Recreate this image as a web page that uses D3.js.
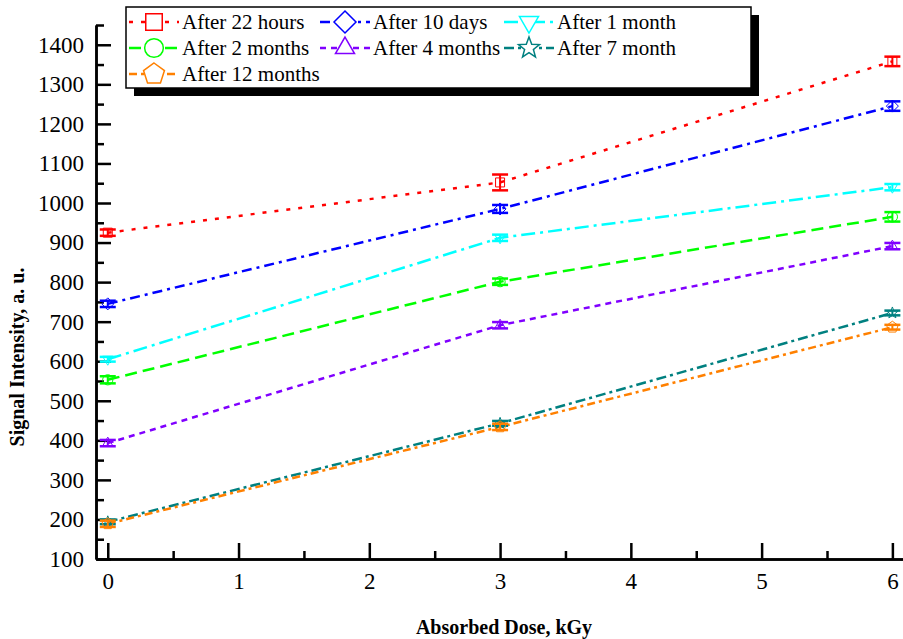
<!DOCTYPE html>
<html>
<head>
<meta charset="utf-8">
<script src="https://cdn.jsdelivr.net/npm/d3@7"></script>
<style>
  html, body { margin: 0; padding: 0; background: #fff; }
  svg { display: block; }
  svg text { font-family: "Liberation Serif", "Times New Roman", Times, serif !important; }
</style>
</head>
<body>
<svg id="chart" width="903" height="639"></svg>
<script>
// ---------- data ----------
const doses = [0, 3, 6];
const seriesNames = ["After 22 hours", "After 10 days", "After 1 month", "After 2 months", "After 4 months", "After 7 month", "After 12 months"];
const v22h  = [925, 1052, 1358];
const v10d  = [745, 985, 1245];
const v1m   = [605, 912, 1040];
const v2m   = [553, 801, 965];
const v4m   = [393, 691, 891];
const v7m   = [194, 443, 722];
const v12m  = [189, 434, 686];
const e22h  = [8, 20, 12];
const e10d  = [8, 10, 12];
const e1m   = [6, 8, 8];
const e2m   = [9, 8, 12];
const e4m   = [8, 8, 8];
const e7m   = [6, 6, 6];
const e12m  = [8, 8, 6];
const yTicks = [100, 200, 300, 400, 500, 600, 700, 800, 900, 1000, 1100, 1200, 1300, 1400];
const xTicks = [0, 1, 2, 3, 4, 5, 6];

// ---------- styles ----------
const colors = ["#ff0000", "#0000ff", "#00ffff", "#00ff00", "#8000ff", "#008080", "#ff8000"];
const dashes = ["4,8", "10,5,3,5", "14,5,3,5", "12,6", "6,5", "10,4,3,4", "8,4,3,4"];
const shapes = ["square", "diamond", "tridown", "circle", "triup", "star", "pentagon"];
const values = [v22h, v10d, v1m, v2m, v4m, v7m, v12m];
const errors = [e22h, e10d, e1m, e2m, e4m, e7m, e12m];
const FONT = '"Liberation Serif", "Times New Roman", Times, serif';

const series = seriesNames.map((name, i) => ({
  name, color: colors[i], dash: dashes[i], shape: shapes[i],
  points: doses.map((d, j) => ({ x: d, y: values[i][j], e: errors[i][j] }))
}));

const svg = d3.select("#chart");
const x = d3.scaleLinear().domain([-0.09, 6.15]).range([96, 912]);
const y = d3.scaleLinear().domain([100, 1450]).range([559, 25]);

// ---------- marker shapes ----------
function polygon(n, r, rot) {
  const pts = [];
  for (let k = 0; k < n; k++) {
    const a = rot + k * 2 * Math.PI / n;
    pts.push([r * Math.cos(a), r * Math.sin(a)]);
  }
  return "M" + pts.map(p => p.join(",")).join("L") + "Z";
}
function star(r) {
  const pts = [];
  for (let k = 0; k < 10; k++) {
    const a = -Math.PI / 2 + k * Math.PI / 5;
    const rr = k % 2 === 0 ? r : r * 0.42;
    pts.push([rr * Math.cos(a), rr * Math.sin(a)]);
  }
  return "M" + pts.map(p => p.join(",")).join("L") + "Z";
}
function markerPath(shape, r) {
  switch (shape) {
    case "square": return `M${-r*0.75},${-r*0.75}H${r*0.75}V${r*0.75}H${-r*0.75}Z`;
    case "diamond": return polygon(4, r, -Math.PI / 2);
    case "tridown": return polygon(3, r, Math.PI / 2);
    case "triup": return polygon(3, r, -Math.PI / 2);
    case "circle": return `M${r*0.85},0A${r*0.85},${r*0.85} 0 1,1 ${-r*0.85},0A${r*0.85},${r*0.85} 0 1,1 ${r*0.85},0Z`;
    case "star": return star(r);
    case "pentagon": return polygon(5, r, -Math.PI / 2);
  }
}

// ---------- axes ----------
const yAxis = d3.axisLeft(y).tickValues(yTicks).tickSizeInner(-15).tickSizeOuter(0).tickPadding(12).tickFormat(d3.format("d"));
const yMinor = d3.axisLeft(y).tickValues(d3.range(150, 1451, 100)).tickSizeInner(-8).tickSizeOuter(0).tickFormat("");
const xAxis = d3.axisBottom(x).tickValues(xTicks).tickSizeInner(-16).tickSizeOuter(0).tickPadding(14).tickFormat(d3.format("d"));
const xMinor = d3.axisBottom(x).tickValues([0.5, 1.5, 2.5, 3.5, 4.5, 5.5]).tickSizeInner(-8).tickSizeOuter(0).tickFormat("");

function styleAxis(g) {
  g.attr("font-family", FONT);
  g.selectAll("path.domain").attr("stroke", "#000").attr("stroke-width", 2.5);
  g.selectAll(".tick line").attr("stroke", "#000").attr("stroke-width", 2.5);
  g.selectAll(".tick text").attr("fill", "#000").style("font-size", "23px").style("font-family", FONT);
}
svg.append("g").attr("transform", `translate(${x.range()[0]},0)`).call(yMinor).call(styleAxis);
svg.append("g").attr("transform", `translate(${x.range()[0]},0)`).call(yAxis).call(styleAxis);
svg.append("g").attr("transform", `translate(0,${y.range()[0]})`).call(xMinor).call(styleAxis);
svg.append("g").attr("transform", `translate(0,${y.range()[0]})`).call(xAxis).call(styleAxis);

// axis titles
svg.append("text").attr("x", 504).attr("y", 634).attr("text-anchor", "middle")
  .attr("font-weight", "bold").style("font-size", "20px").style("font-family", FONT).text("Absorbed Dose, kGy");
svg.append("text").attr("transform", "translate(24,357) rotate(-90)").attr("text-anchor", "middle")
  .attr("font-weight", "bold").style("font-size", "20px").style("font-family", FONT).text("Signal Intensity, a. u.");

// ---------- lines ----------
const line = d3.line().x(d => x(d.x)).y(d => y(d.y));
const plot = svg.append("g");
series.forEach(s => {
  plot.append("path").datum(s.points).attr("d", line)
    .attr("fill", "none").attr("stroke", s.color).attr("stroke-width", 2.5)
    .attr("stroke-dasharray", s.dash);
});

// ---------- markers + error bars ----------
series.forEach(s => {
  const g = plot.append("g");
  s.points.forEach(p => {
    const cx = x(p.x), cy = y(p.y), top = y(p.y + p.e), bot = y(p.y - p.e);
    g.append("path").attr("d", markerPath(s.shape, 6)).attr("transform", `translate(${cx},${cy})`)
      .attr("fill", "none").attr("stroke", s.color).attr("stroke-width", 1);
    g.append("line").attr("x1", cx).attr("x2", cx).attr("y1", top).attr("y2", bot)
      .attr("stroke", s.color).attr("stroke-width", 2);
    [top, bot].forEach(yy => g.append("line").attr("x1", cx - 8).attr("x2", cx + 8)
      .attr("y1", yy).attr("y2", yy).attr("stroke", s.color).attr("stroke-width", 2.5));
  });
});

// ---------- legend ----------
const lg = svg.append("g");
lg.append("rect").attr("x", 134).attr("y", 15).attr("width", 625).attr("height", 81).attr("fill", "#000");
lg.append("rect").attr("x", 126).attr("y", 7).attr("width", 625).attr("height", 81)
  .attr("fill", "#fff").attr("stroke", "#000").attr("stroke-width", 1.5);
const colX = [129, 320, 504];
const rowY = [22, 48, 74];
series.forEach((s, i) => {
  const cx0 = colX[i % 3], cy = rowY[Math.floor(i / 3)];
  const item = lg.append("g");
  item.append("line").attr("x1", cx0).attr("x2", cx0 + 50).attr("y1", cy).attr("y2", cy)
    .attr("stroke", s.color).attr("stroke-width", 2.5).attr("stroke-dasharray", s.dash);
  item.append("path").attr("d", markerPath(s.shape, 11)).attr("transform", `translate(${cx0 + 25},${cy})`)
    .attr("fill", "#fff").attr("stroke", s.color).attr("stroke-width", 1.5);
  item.append("text").attr("x", cx0 + 53).attr("y", cy).attr("dy", "0.35em")
    .style("font-size", "21px").style("font-family", FONT).attr("fill", "#000").text(s.name);
});
</script>
</body>
</html>
